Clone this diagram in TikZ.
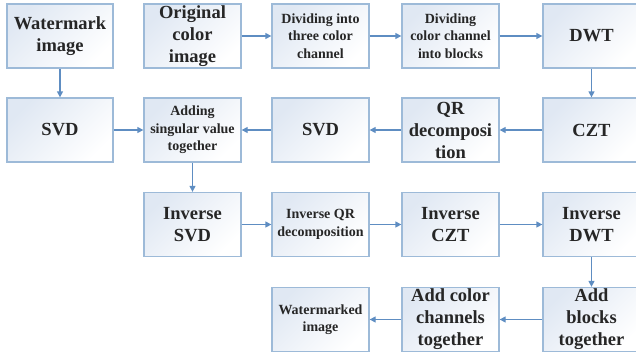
\documentclass[tikz,border=0pt]{standalone}
\usepackage{fontspec}
\setmainfont{Liberation Serif}
\usetikzlibrary{arrows.meta}
\definecolor{boxedge}{HTML}{9DBAD8}
\definecolor{boxfill}{HTML}{E0E8F3}
\definecolor{flowblue}{HTML}{5E8DC2}
\definecolor{textgray}{HTML}{262626}

\begin{document}
\begin{tikzpicture}[x=1pt,y=-1pt,
    block/.style={draw=boxedge, line width=1.3pt, top color=boxfill, bottom color=white, shading angle=45,
        minimum width=97pt, minimum height=64pt, inner sep=1pt, align=center, text=textgray,
        font={\bfseries\fontsize{18.5}{22}\selectfont}},
    small/.style={font={\bfseries\fontsize{14}{17.5}\selectfont}},
    flow/.style={draw=flowblue, line width=1.3pt, -{Triangle[length=6pt,width=6pt]}}]
    \useasboundingbox (0,0) rectangle (636,356);

    % Row 1
    \node[block, minimum width=106pt] (wmimg) at (60,36) {Watermark\\image};
    \node[block] (orig) at (192.5,36) {Original\\color\\image};
    \node[block, small] (split) at (320.5,36) {Dividing into\\three color\\channel};
    \node[block, small] (blocks) at (450.5,36) {Dividing\\color channel\\into blocks};
    \node[block] (dwt) at (591.5,36) {DWT};

    % Row 2
    \node[block, minimum width=106pt] (svdwm) at (60,130) {SVD};
    \node[block, small] (adding) at (192.5,130) {Adding\\singular value\\together};
    \node[block] (svdimg) at (320.5,130) {SVD};
    \node[block] (qr) at (450.5,130) {QR\\decomposi\\tion};
    \node[block] (czt) at (591.5,130) {CZT};

    % Row 3
    \node[block] (invsvd) at (192.5,224.5) {Inverse\\SVD};
    \node[block, small] (invqr) at (320.5,224.5) {Inverse QR\\decomposition};
    \node[block] (invczt) at (450.5,224.5) {Inverse\\CZT};
    \node[block] (invdwt) at (591.5,224.5) {Inverse\\DWT};

    % Row 4
    \node[block, small] (marked) at (320.5,319.5) {Watermarked\\image};
    \node[block] (addcolor) at (450.5,319.5) {Add color\\channels\\together};
    \node[block] (addblocks) at (591.5,319.5) {Add\\blocks\\together};

    % Connections
    \draw[flow] (orig) -- (split);
    \draw[flow] (split) -- (blocks);
    \draw[flow] (blocks) -- (dwt);
    \draw[flow] (wmimg) -- (svdwm);
    \draw[flow] (dwt) -- (czt);
    \draw[flow] (czt) -- (qr);
    \draw[flow] (qr) -- (svdimg);
    \draw[flow] (svdimg) -- (adding);
    \draw[flow] (svdwm) -- (adding);
    \draw[flow] (adding) -- (invsvd);
    \draw[flow] (invsvd) -- (invqr);
    \draw[flow] (invqr) -- (invczt);
    \draw[flow] (invczt) -- (invdwt);
    \draw[flow] (invdwt) -- (addblocks);
    \draw[flow] (addblocks) -- (addcolor);
    \draw[flow] (addcolor) -- (marked);
\end{tikzpicture}
\end{document}
